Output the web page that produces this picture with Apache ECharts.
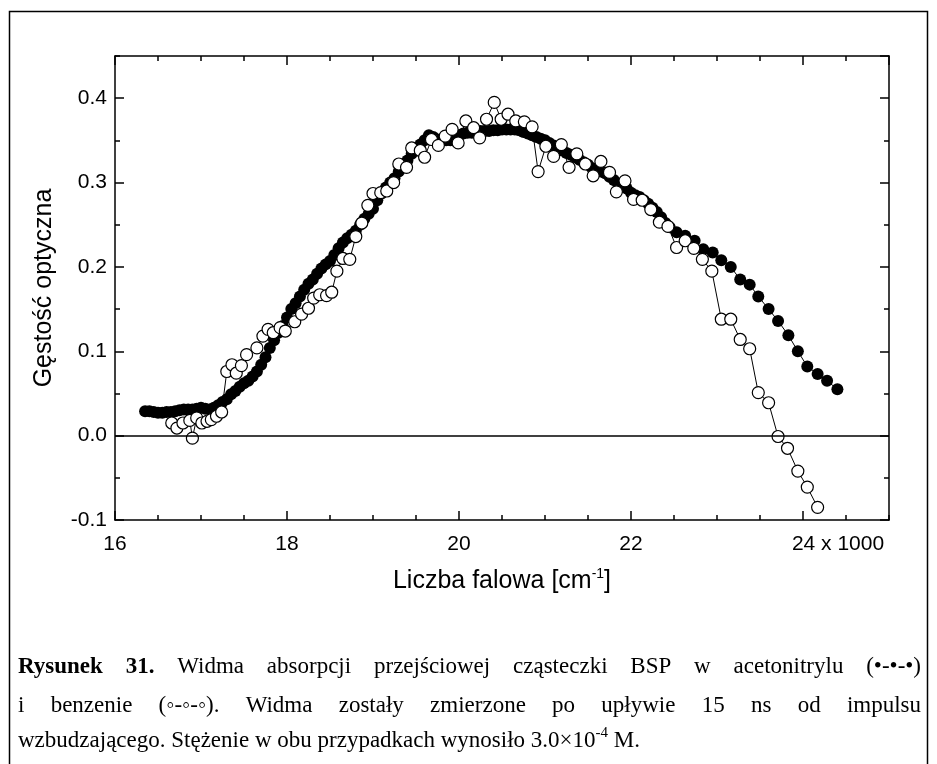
<!DOCTYPE html>
<html><head><meta charset="utf-8">
<script src="https://cdn.jsdelivr.net/npm/echarts@6/dist/echarts.min.js"></script>
<style>html,body{margin:0;padding:0;background:#fff}#c{width:937px;height:764px}</style>
</head><body><div id="c"></div>
<script>
// Acetonitrile (filled circles): [wavenumber / 1000 cm-1, optical density]
const acetonitrile = [
[16.35,0.029],[16.40,0.029],[16.45,0.028],[16.50,0.027],[16.55,0.027],[16.60,0.028],[16.65,0.028],[16.70,0.029],[16.75,0.030],[16.80,0.031],
[16.85,0.031],[16.90,0.031],[16.95,0.032],[17.00,0.033],[17.05,0.032],[17.10,0.031],[17.15,0.033],[17.20,0.036],[17.25,0.040],[17.30,0.043],
[17.35,0.049],[17.40,0.053],[17.45,0.058],[17.50,0.062],[17.55,0.065],[17.60,0.070],[17.65,0.076],[17.70,0.084],[17.75,0.093],[17.80,0.104],
[17.85,0.113],[17.90,0.122],[17.95,0.130],[18.00,0.140],[18.05,0.150],[18.10,0.157],[18.15,0.165],[18.20,0.173],[18.25,0.180],[18.30,0.185],
[18.35,0.192],[18.40,0.198],[18.45,0.203],[18.50,0.207],[18.55,0.214],[18.60,0.222],[18.65,0.229],[18.70,0.234],[18.75,0.238],[18.80,0.243],
[18.85,0.250],[18.90,0.257],[18.95,0.263],[19.00,0.269],[19.05,0.279],[19.10,0.287],[19.15,0.294],[19.20,0.300],[19.25,0.305],[19.30,0.313],
[19.35,0.320],[19.40,0.326],[19.45,0.334],[19.50,0.340],[19.55,0.345],[19.60,0.350],[19.65,0.356],[19.70,0.354],[19.75,0.351],[19.80,0.350],
[19.85,0.350],[19.90,0.350],[19.95,0.353],[20.00,0.356],[20.05,0.358],[20.10,0.359],[20.15,0.359],[20.20,0.360],[20.25,0.361],[20.30,0.361],
[20.35,0.361],[20.40,0.362],[20.45,0.362],[20.50,0.363],[20.55,0.363],[20.60,0.363],[20.65,0.363],[20.70,0.362],[20.75,0.360],[20.80,0.358],
[20.85,0.356],[20.90,0.354],[20.95,0.352],[21.00,0.350],[21.05,0.347],[21.10,0.344],[21.15,0.341],[21.20,0.338],[21.25,0.335],[21.30,0.333],
[21.35,0.330],[21.40,0.327],[21.45,0.324],[21.50,0.321],[21.55,0.317],[21.60,0.315],[21.65,0.313],[21.70,0.311],[21.75,0.307],[21.80,0.303],
[21.85,0.299],[21.90,0.297],[21.95,0.293],[22.00,0.288],[22.05,0.285],[22.10,0.283],[22.15,0.279],[22.20,0.275],[22.25,0.270],[22.30,0.265],
[22.35,0.259],[22.40,0.252],[22.45,0.247],
[22.53,0.241],[22.63,0.237],[22.74,0.231],[22.84,0.221],[22.95,0.217],[23.05,0.208],[23.16,0.200],[23.27,0.185],[23.38,0.179],[23.48,0.165],
[23.60,0.150],[23.71,0.136],[23.83,0.119],[23.94,0.100],[24.05,0.082],[24.17,0.073],[24.28,0.065],[24.40,0.055]
];
// Benzene (open circles)
const benzene = [
[16.66,0.015],[16.72,0.009],[16.79,0.015],[16.87,0.018],[16.90,-0.003],[16.95,0.021],[17.01,0.015],[17.07,0.017],[17.12,0.019],[17.18,0.023],
[17.24,0.028],[17.30,0.076],[17.36,0.084],[17.41,0.074],[17.47,0.083],[17.53,0.096],[17.65,0.104],[17.72,0.118],[17.78,0.126],[17.84,0.122],
[17.92,0.128],[17.98,0.124],[18.09,0.135],[18.17,0.144],[18.25,0.151],[18.31,0.163],[18.38,0.167],[18.46,0.166],[18.52,0.170],[18.58,0.195],
[18.65,0.210],[18.73,0.209],[18.80,0.236],[18.87,0.252],[18.94,0.273],[19.00,0.287],[19.09,0.288],[19.16,0.290],[19.24,0.300],[19.30,0.322],
[19.39,0.318],[19.45,0.341],[19.55,0.338],[19.60,0.330],[19.68,0.351],[19.76,0.344],[19.84,0.355],[19.92,0.363],[19.99,0.347],[20.08,0.373],
[20.17,0.365],[20.24,0.353],[20.32,0.375],[20.41,0.395],[20.49,0.375],[20.57,0.381],[20.66,0.373],[20.76,0.372],[20.85,0.366],[20.92,0.313],
[21.01,0.343],[21.10,0.331],[21.19,0.345],[21.28,0.318],[21.37,0.334],[21.47,0.322],[21.56,0.308],[21.65,0.325],[21.75,0.312],[21.83,0.289],
[21.93,0.302],[22.03,0.280],[22.13,0.279],[22.23,0.268],[22.33,0.253],[22.43,0.248],[22.53,0.223],[22.63,0.231],[22.73,0.222],[22.83,0.209],
[22.94,0.195],[23.05,0.138],[23.16,0.138],[23.27,0.114],[23.38,0.103],[23.48,0.051],[23.60,0.039],[23.71,-0.001],[23.82,-0.015],[23.94,-0.042],
[24.05,-0.061],[24.17,-0.085]
];
const xRange = [16, 25];
const yRange = [-0.1, 0.45];
const xAxisTitle = 'Liczba falowa [cm';
const xAxisTitleSup = '-1';
const yAxisTitle = 'Gęstość optyczna';
const xScaleNote = ' x 1000';
const captionLine1 = [['Rysunek',1],['31.',1],['Widma',0],['absorpcji',0],['przejściowej',0],['cząsteczki',0],['BSP',0],['w',0],['acetonitrylu',0],['(•-•-•)',0]];
const captionLine2 = ['i','benzenie','(◦-◦-◦).','Widma','zostały','zmierzone','po','upływie','15','ns','od','impulsu'];
const captionLine3 = ['wzbudzającego. Stężenie w obu przypadkach wynosiło 3.0×10', '-4', ' M.'];

const chart = echarts.init(document.getElementById('c'), null, {renderer:'canvas'});
const black = '#000';
const sans = '"Liberation Sans", Arial, sans-serif';
const tickFont = {color:black, fontFamily:sans, fontSize:21};

function majorX(pos, labels){
  return {type:'value', min:xRange[0], max:xRange[1], interval:2, position:pos, gridIndex:0,
    axisLine:{show:true, onZero:false, lineStyle:{color:black,width:1.5}},
    axisTick:{show:true, inside:true, length:9, lineStyle:{color:black,width:1.5}},
    splitLine:{show:false},
    axisLabel: labels ? Object.assign({show:true, margin:14, showMaxLabel:false, hideOverlap:false,
      formatter:function(v){ return v===24 ? '{p|24}{s|'+xScaleNote+'}' : String(v); },
      rich:{p:Object.assign({padding:[0,0,0,70]},tickFont), s:Object.assign({},tickFont)}}, tickFont) : {show:false}
  };
}
function minorX(pos){
  return {type:'value', min:xRange[0], max:xRange[1], interval:0.5, position:pos, gridIndex:0,
    axisLine:{show:false, onZero:false}, axisTick:{show:true, inside:true, length:5, lineStyle:{color:black,width:1.5}},
    axisLabel:{show:false}, splitLine:{show:false}};
}
function majorY(pos, labels){
  return {type:'value', min:yRange[0], max:yRange[1], interval:0.1, position:pos, gridIndex:0,
    axisLine:{show:true, onZero:false, lineStyle:{color:black,width:1.5}},
    axisTick:{show:true, inside:true, length:9, lineStyle:{color:black,width:1.5}},
    splitLine:{show:false},
    axisLabel: labels ? Object.assign({show:true, margin:8, showMaxLabel:false,
      formatter:function(v){ return v.toFixed(1); }}, tickFont) : {show:false}
  };
}
function minorY(pos){
  return {type:'value', min:yRange[0], max:yRange[1], interval:0.05, position:pos, gridIndex:0,
    axisLine:{show:false, onZero:false}, axisTick:{show:true, inside:true, length:5, lineStyle:{color:black,width:1.5}},
    axisLabel:{show:false}, splitLine:{show:false}};
}

const xMain = majorX('bottom', true);
xMain.name = '{a|'+xAxisTitle+'}{s|'+xAxisTitleSup+'}{a|]}';
xMain.nameLocation = 'middle';
xMain.nameGap = 46;
xMain.nameTextStyle = {rich:{
  a:{fontFamily:sans, fontSize:25, color:black, lineHeight:30},
  s:{fontFamily:sans, fontSize:14, color:black, lineHeight:30, padding:[0,0,13,0]}
}};
const yMain = majorY('left', true);
yMain.name = yAxisTitle;
yMain.nameLocation = 'middle';
yMain.nameGap = 58;
yMain.nameTextStyle = {fontFamily:sans, fontSize:25, color:black};

// caption layout
const ctx = document.createElement('canvas').getContext('2d');
const serif = '"Liberation Serif", "Times New Roman", serif';
function fontStr(bold, size){ return (bold?'bold ':'') + size + 'px ' + serif; }
function tw(t, bold, size){ ctx.font = fontStr(bold, size); return ctx.measureText(t).width; }
const capSize = 23, capX0 = 18, capX1 = 921;
const graphics = [];
graphics.push({type:'polyline', silent:true, shape:{points:[[9.5,770],[9.5,11.5],[927.5,11.5],[927.5,770]]},
  style:{stroke:black, lineWidth:1.5, fill:null}});
function justified(words, y){
  const tot = words.reduce((s,o)=>s+tw(o[0],o[1],capSize),0);
  const gap = (capX1-capX0-tot)/(words.length-1);
  let x = capX0;
  words.forEach(o=>{
    graphics.push({type:'text', silent:true, x:x, y:y, style:{text:o[0], font:fontStr(o[1],capSize), fill:black, textVerticalAlign:'middle', verticalAlign:'middle'}});
    x += tw(o[0],o[1],capSize) + gap;
  });
}
justified(captionLine1, 667);
justified(captionLine2.map(t=>[t,0]), 706);
(function(){
  const y = 741; let x = capX0;
  graphics.push({type:'text', silent:true, x:x, y:y, style:{text:captionLine3[0], font:fontStr(0,capSize), fill:black, textVerticalAlign:'middle', verticalAlign:'middle'}});
  x += tw(captionLine3[0],0,capSize);
  graphics.push({type:'text', silent:true, x:x, y:y-8, style:{text:captionLine3[1], font:fontStr(0,15), fill:black, textVerticalAlign:'middle', verticalAlign:'middle'}});
  x += tw(captionLine3[1],0,15);
  graphics.push({type:'text', silent:true, x:x, y:y, style:{text:captionLine3[2], font:fontStr(0,capSize), fill:black, textVerticalAlign:'middle', verticalAlign:'middle'}});
})();

chart.setOption({
  backgroundColor:'#fff',
  animation:false,
  grid:{left:115, right:48, top:56, bottom:244, containLabel:false},
  xAxis:[xMain, minorX('bottom'), majorX('top', false), minorX('top')],
  yAxis:[yMain, minorY('left'), majorY('right', false), minorY('right')],
  series:[
    {type:'line', name:'acetonitryl', data:acetonitrile, xAxisIndex:0, yAxisIndex:0,
     symbol:'circle', symbolSize:12, showAllSymbol:true,
     lineStyle:{color:black, width:1}, itemStyle:{color:black, borderColor:black, borderWidth:0},
     markLine:{silent:true, symbol:['none','none'], label:{show:false},
       lineStyle:{color:black, width:1.5, type:'solid'}, data:[{yAxis:0}]},
     z:2},
    {type:'line', name:'benzen', data:benzene, xAxisIndex:0, yAxisIndex:0,
     symbol:'circle', symbolSize:12, showAllSymbol:true,
     lineStyle:{color:black, width:1}, itemStyle:{color:'#fff', borderColor:black, borderWidth:1.2},
     z:3}
  ],
  graphic: graphics
});
</script></body></html>
